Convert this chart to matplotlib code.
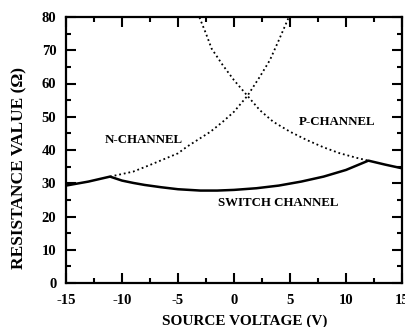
import matplotlib
matplotlib.use("Agg")
import matplotlib.pyplot as plt
from matplotlib.ticker import MultipleLocator

# Data
n_x = [-11.07, -9.0, -7.5, -5.0, -4.2, -2.1, -1.0, 0.0, 1.2, 2.3, 3.2, 4.0, 4.9, 5.2]
n_y = [32.0, 33.5, 35.5, 39.0, 41.0, 45.5, 48.5, 51.5, 56.3, 62.0, 67.0, 73.0, 80.0, 82.5]

p_x = [-3.4, -3.1, -2.5, -2.0, -1.0, 0.0, 1.2, 2.3, 3.5, 5.0, 6.5, 8.0, 9.46, 11.0, 12.0]
p_y = [82.5, 80.0, 75.0, 70.5, 65.5, 61.0, 56.3, 52.0, 48.5, 45.5, 43.0, 40.8, 39.0, 37.6, 36.8]

s_x = [-15, -13, -11.07, -10, -9, -8, -6.5, -5, -3, -1.5, 0, 2, 4, 6, 8, 10, 12, 13.5, 15]
s_y = [29.3, 30.5, 32.0, 30.8, 30.1, 29.5, 28.8, 28.2, 27.8, 27.8, 28.0, 28.5, 29.3, 30.5, 32.0, 34.0, 36.8, 35.6, 34.5]

x_ticks = [-15, -10, -5, 0, 5, 10, 15]
y_ticks = [0, 10, 20, 30, 40, 50, 60, 70, 80]

plt.rcParams['font.family'] = ['Liberation Serif', 'DejaVu Serif']
plt.rcParams['font.weight'] = 'bold'
plt.rcParams['axes.unicode_minus'] = False

fig = plt.figure(figsize=(4.06, 3.27), dpi=100)
ax = fig.add_axes([66/406, 1-283/327, (402-66)/406, (283-17)/327])

ax.plot(n_x, n_y, color='black', lw=1.3, linestyle=(0, (1, 1.6)))
ax.plot(p_x, p_y, color='black', lw=1.3, linestyle=(0, (1, 1.6)))
ax.plot(s_x, s_y, color='black', lw=1.8, solid_joinstyle='round')

ax.set_xlim(-15, 15)
ax.set_ylim(0, 80)
ax.set_xticks(x_ticks)
ax.set_yticks(y_ticks)
ax.xaxis.set_minor_locator(MultipleLocator(2.5))
ax.yaxis.set_minor_locator(MultipleLocator(5))
ax.tick_params(which='both', direction='in', top=True, right=True, width=1.5,
               labelsize=10.5)
ax.tick_params(axis='y', pad=7)
ax.tick_params(axis='x', pad=8)
ax.tick_params(which='major', length=7)
ax.tick_params(which='minor', length=3.5)
for lab in ax.get_xticklabels() + ax.get_yticklabels():
    lab.set_fontweight('bold')
for sp in ax.spines.values():
    sp.set_linewidth(1.6)

ax.set_xlabel('SOURCE VOLTAGE (V)', fontsize=11, fontweight='bold')
ax.set_ylabel('RESISTANCE VALUE (\u03a9)', fontsize=12.5, fontweight='bold')
ax.xaxis.set_label_coords(0.531, -0.12)
ax.yaxis.set_label_coords(-0.116, 0.432)

ax.text(-8.1, 43, 'N-CHANNEL', fontsize=9.3, fontweight='bold', ha='center', va='center')
ax.text(9.17, 48.5, 'P-CHANNEL', fontsize=9.3, fontweight='bold', ha='center', va='center')
ax.text(3.93, 24, 'SWITCH CHANNEL', fontsize=9.3, fontweight='bold', ha='center', va='center')

fig.savefig('out.png', dpi=100)
